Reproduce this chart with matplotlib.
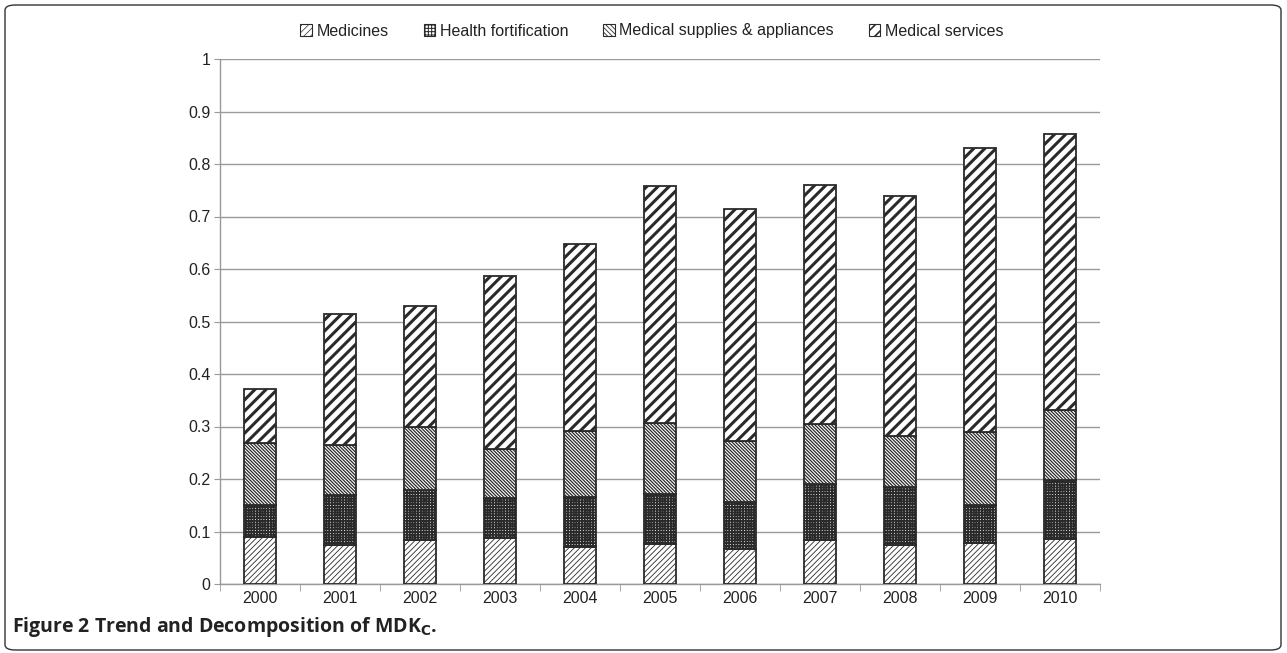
import matplotlib
matplotlib.use("Agg")
import matplotlib.pyplot as plt
from matplotlib.patches import FancyBboxPatch, Patch
import numpy as np

years = ["2000", "2001", "2002", "2003", "2004", "2005", "2006", "2007", "2008", "2009", "2010"]
medicines = [0.090, 0.074, 0.083, 0.088, 0.071, 0.076, 0.066, 0.083, 0.074, 0.078, 0.086]
health_fortification = [0.060, 0.096, 0.096, 0.076, 0.094, 0.095, 0.090, 0.107, 0.111, 0.072, 0.112]
medical_supplies = [0.118, 0.095, 0.121, 0.093, 0.126, 0.135, 0.116, 0.115, 0.097, 0.140, 0.133]
medical_services = [0.103, 0.249, 0.230, 0.330, 0.357, 0.452, 0.442, 0.455, 0.457, 0.540, 0.526]
series_names = ["Medicines", "Health fortification", "Medical supplies & appliances", "Medical services"]
yticks = [0, 0.1, 0.2, 0.3, 0.4, 0.5, 0.6, 0.7, 0.8, 0.9, 1]
ytick_labels = ["0", "0.1", "0.2", "0.3", "0.4", "0.5", "0.6", "0.7", "0.8", "0.9", "1"]

plt.rcParams['font.family'] = ['Liberation Sans', 'DejaVu Sans']
plt.rcParams['hatch.color'] = '#1a1a1a'

W, H = 1287, 653
fig = plt.figure(figsize=(W / 100, H / 100), dpi=100)
ax = fig.add_axes([220 / W, 1 - 584 / H, 880 / W, 525 / H])

x = np.arange(len(years))
series = [medicines, health_fortification, medical_supplies, medical_services]
hatches = ["//////", "++++++", "\\\\\\\\\\\\\\\\\\\\", "///"]
hlw = [0.6, 1.3, 0.9, 2.2]
leg_hatches = ["/////", "+++++", "\\\\\\\\\\\\\\", "///"]
leg_lw = [0.5, 0.7, 0.6, 1.2]
edge = "#2a2a2a"
bottom = np.zeros(len(years))
for vals, name, hatch, lw in zip(series, series_names, hatches, hlw):
    plt.rcParams['hatch.linewidth'] = lw
    bars = ax.bar(x, vals, width=0.4, bottom=bottom, color="white", edgecolor=edge,
                  linewidth=1.3, hatch=hatch, label=name, zorder=3)
    for b in bars:
        if hasattr(b, "set_hatch_linewidth"):
            b.set_hatch_linewidth(lw)
    bottom = bottom + np.array(vals)

ax.set_xlim(-0.5, len(years) - 0.5)
ax.set_ylim(0, 1)
ax.set_yticks(yticks)
ax.set_yticklabels(ytick_labels, fontsize=11.5, color='#222222')
ax.set_xticks(x)
ax.set_xticklabels(years, fontsize=11.5, color='#222222')
ax.tick_params(axis='x', length=0, pad=5)
ax.set_xticks(np.arange(-0.5, len(years)), minor=True)
ax.tick_params(axis='x', which='minor', length=5, color='#999999')
ax.tick_params(axis='y', length=4, color='#999999', pad=3)
ax.grid(axis='y', color='#9a9a9a', linewidth=1.0, zorder=0)
ax.set_axisbelow(True)
for s in ['top', 'right']:
    ax.spines[s].set_visible(False)
for s in ['left', 'bottom']:
    ax.spines[s].set_color('#999999')
    ax.spines[s].set_linewidth(1.0)

handles = []
for name, hatch, lw in zip(series_names, leg_hatches, leg_lw):
    plt.rcParams['hatch.linewidth'] = lw
    p = Patch(facecolor='white', edgecolor=edge, linewidth=0.8, hatch=hatch, label=name)
    if hasattr(p, "set_hatch_linewidth"):
        p.set_hatch_linewidth(lw)
    handles.append(p)

leg = fig.legend(handles=handles, labels=series_names, loc='center', bbox_to_anchor=(652 / W, 1 - 31 / H),
                 ncol=4, frameon=False, fontsize=11.5, handlelength=0.7, handleheight=0.7,
                 columnspacing=2.2, handletextpad=0.3)
for t in leg.get_texts():
    t.set_color('#222222')
for p, lw in zip(leg.legend_handles, leg_lw):
    if hasattr(p, "set_hatch_linewidth"):
        p.set_hatch_linewidth(lw)

fig.text(12 / W, 1 - 627 / H, r"Figure 2 Trend and Decomposition of MDK$_\mathbf{C}$.",
         fontsize=14, fontweight='bold', family=['Open Sans', 'DejaVu Sans'], va='center', ha='left',
         color='#222222')

border = FancyBboxPatch((5 / W, 3 / H), 1276 / W, 645 / H, boxstyle="round,pad=0,rounding_size=0.008",
                        transform=fig.transFigure, facecolor='none', edgecolor='#333333', linewidth=1.0)
fig.patches.append(border)

fig.savefig("out.png", dpi=100)
